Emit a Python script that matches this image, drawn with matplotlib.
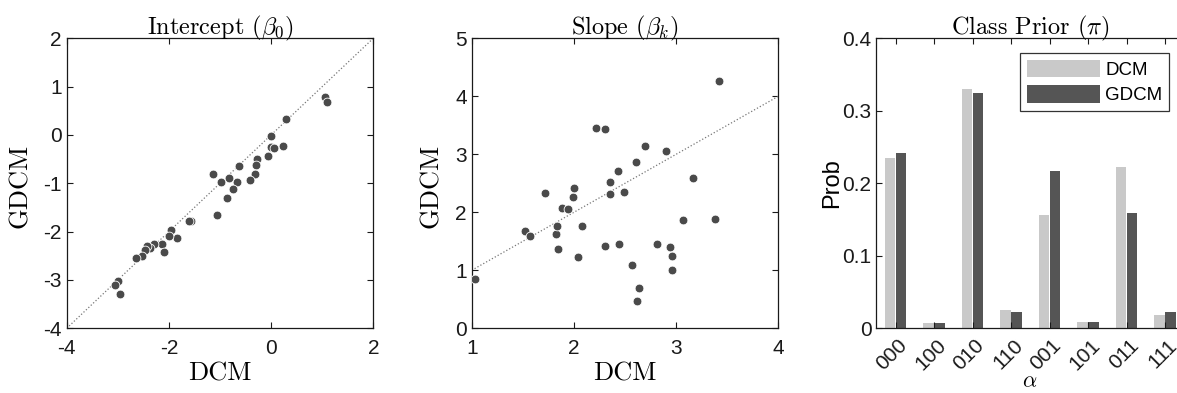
import matplotlib
matplotlib.use('Agg')
import matplotlib.pyplot as plt
import matplotlib.transforms as mtransforms
import numpy as np

plt.rcParams['mathtext.fontset'] = 'cm'
plt.rcParams['axes.unicode_minus'] = False
plt.rcParams['font.family'] = ['Liberation Sans', 'DejaVu Sans']

# ---- Data ----
intercept_dcm = [1.06, 1.10, 0.29, 0.005, 0.23, -0.01, 0.06, -0.07, -0.27, -0.29,
                 -0.31, -0.41, -0.63, -0.66, -0.75, -0.83, -0.86, -0.99, -1.14, -1.05,
                 -1.57, -1.60, -1.84, -1.96, -2.00, -2.14, -2.09, -2.30, -2.37, -2.43,
                 -2.47, -2.53, -2.64, -2.99, -3.05, -2.96]
intercept_gdcm = [0.78, 0.69, 0.33, -0.02, -0.22, -0.24, -0.27, -0.43, -0.50, -0.63,
                  -0.81, -0.94, -0.64, -0.97, -1.12, -0.90, -1.30, -0.97, -0.81, -1.66,
                  -1.77, -1.77, -2.14, -1.97, -2.08, -2.26, -2.43, -2.26, -2.34, -2.30,
                  -2.38, -2.50, -2.55, -3.02, -3.10, -3.28]

slope_dcm = [1.03, 1.52, 1.57, 1.72, 1.82, 1.83, 1.84, 1.88, 1.94, 1.99, 2.00, 2.04,
             2.08, 2.22, 2.30, 2.30, 2.35, 2.35, 2.43, 2.44, 2.49, 2.57, 2.61, 2.62,
             2.64, 2.70, 2.81, 2.90, 2.94, 2.96, 2.96, 3.07, 3.17, 3.38, 3.42]
slope_gdcm = [0.85, 1.67, 1.59, 2.34, 1.63, 1.76, 1.37, 2.08, 2.05, 2.26, 2.42, 1.23,
              1.76, 3.45, 3.44, 1.42, 2.52, 2.32, 2.72, 1.45, 2.35, 1.09, 2.87, 0.47,
              0.69, 3.14, 1.45, 3.06, 1.40, 1.25, 1.01, 1.86, 2.59, 1.88, 4.26]

classes = ['000', '100', '010', '110', '001', '101', '011', '111']
prior_dcm = [0.235, 0.008, 0.330, 0.025, 0.156, 0.009, 0.222, 0.019]
prior_gdcm = [0.242, 0.008, 0.325, 0.023, 0.217, 0.009, 0.159, 0.022]

# ---- Figure ----
W, H = 1177, 393
fig = plt.figure(figsize=(W / 100, H / 100), dpi=100)

def fx(px):
    return px / W

def fy(py):
    return 1 - py / H

top_px, bot_px = 38.3, 328.3
AH = bot_px - top_px
ax1 = fig.add_axes([fx(66.7), fy(bot_px), fx(306.6), AH / H])
ax2 = fig.add_axes([fx(471.7), fy(bot_px), fx(306.6), AH / H])
ax3 = fig.add_axes([fx(876.3), fy(bot_px), fx(308.0), AH / H])

dot_color = '#4a4a4a'
serif = 'cmr10'
tick_fs = 15
label_fs = 19
title_fs = 17.5

def style(ax):
    ax.tick_params(direction='in', top=True, right=True, length=4, width=0.8,
                   labelsize=tick_fs, colors='#1a1a1a')
    ax.tick_params(axis='y', pad=3.5)
    ax.tick_params(axis='x', pad=7.5)
    for s in ax.spines.values():
        s.set_linewidth(0.9)
        s.set_color('#1a1a1a')

def ylab_x(px, left):
    return (px - left) / 306.6

def ylab_y(py):
    return (bot_px - py) / AH

# Panel 1
ax1.plot([-4, 2], [-4, 2], linestyle=':', color='#777777', linewidth=0.9)
ax1.scatter(intercept_dcm, intercept_gdcm, s=40, color=dot_color,
            edgecolors='white', linewidths=0.6, zorder=3)
ax1.set_xlim(-4, 2)
ax1.set_ylim(-4, 2)
ax1.set_xticks([-4, -2, 0, 2])
ax1.set_yticks([-4, -3, -2, -1, 0, 1, 2])
style(ax1)
ax1.set_title(r'Intercept ($\beta_0$)', fontfamily=serif, fontsize=title_fs, pad=3)
ax1.set_xlabel('DCM', fontfamily=serif, fontsize=label_fs, va='center')
ax1.xaxis.set_label_coords(0.5, ylab_y(374))
ax1.set_ylabel('GDCM', fontfamily=serif, fontsize=label_fs, va='center')
ax1.yaxis.set_label_coords(ylab_x(20, 66.7), 0.49)

# Panel 2
ax2.plot([1, 4], [1, 4], linestyle=':', color='#777777', linewidth=0.9)
ax2.scatter(slope_dcm, slope_gdcm, s=40, color=dot_color,
            edgecolors='white', linewidths=0.6, zorder=3)
ax2.set_xlim(1, 4)
ax2.set_ylim(0, 5)
ax2.set_xticks([1, 2, 3, 4])
ax2.set_yticks([0, 1, 2, 3, 4, 5])
style(ax2)
ax2.set_title(r'Slope ($\beta_k$)', fontfamily=serif, fontsize=title_fs, pad=3)
ax2.set_xlabel('DCM', fontfamily=serif, fontsize=label_fs, va='center')
ax2.xaxis.set_label_coords(0.5, ylab_y(374))
ax2.set_ylabel('GDCM', fontfamily=serif, fontsize=label_fs, va='center')
ax2.yaxis.set_label_coords(ylab_x(431, 471.7), 0.49)

# Panel 3
x = np.arange(1, len(classes) + 1)
bw = 0.27
ax3.bar(x - 0.14, prior_dcm, width=bw, color='#c9c9c9', label='DCM')
ax3.bar(x + 0.14, prior_gdcm, width=bw, color='#555555', label='GDCM')
ax3.set_xlim(0.5, 8.5)
ax3.set_ylim(0, 0.4)
ax3.set_yticks([0, 0.1, 0.2, 0.3, 0.4])
ax3.set_yticklabels(['0', '0.1', '0.2', '0.3', '0.4'])
ax3.set_xticks(x)
style(ax3)
ax3.set_xticklabels(classes, rotation=45, ha='right', va='center',
                    rotation_mode='anchor')
ax3.tick_params(axis='x', pad=10)
shift = mtransforms.ScaledTranslation(9 / 100, 0, fig.dpi_scale_trans)
for lab in ax3.get_xticklabels():
    lab.set_transform(lab.get_transform() + shift)
ax3.set_title(r'Class Prior ($\pi$)', fontfamily=serif, fontsize=title_fs, pad=3)
ax3.set_ylabel('Prob', fontsize=17, va='center')
ax3.yaxis.set_label_coords((832 - 876.3) / 308.0, 0.5)
ax3.set_xlabel(r'$\alpha$', fontsize=16, va='bottom')
ax3.xaxis.set_label_coords((1030 - 876.3) / 308.0, (bot_px - 392) / AH)
leg = ax3.legend(loc='upper right',
                 bbox_to_anchor=((1169 - 876.3) / 308.0, (bot_px - 53) / AH),
                 fontsize=13.5, frameon=True, fancybox=False, edgecolor='black',
                 handlelength=3.9, handleheight=1.05, borderpad=0.35,
                 labelspacing=0.35, handletextpad=0.3, borderaxespad=0)
leg.get_frame().set_linewidth(0.9)

fig.savefig('out.png', dpi=100)
